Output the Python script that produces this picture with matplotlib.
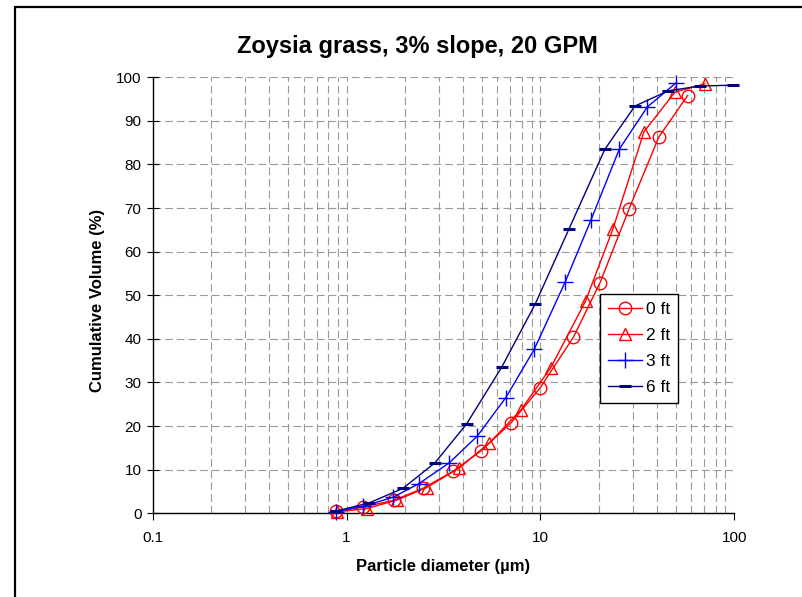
import matplotlib
matplotlib.use("Agg")
import matplotlib.pyplot as plt
import matplotlib.patches as mpatches
from matplotlib.ticker import FixedLocator, FuncFormatter, NullFormatter

plt.rcParams["font.family"] = ["Liberation Sans", "DejaVu Sans"]

# ── Data ─────────────────────────────────────────────────────────
x_0ft = [0.88, 1.22, 1.76, 2.47, 3.53, 4.96, 7.07, 9.94, 14.8, 20.3, 28.7, 40.8, 57.4]
v_0ft = [0.5, 1.45, 3.0, 5.7, 9.6, 14.4, 20.8, 28.7, 40.4, 52.9, 69.9, 86.3, 95.8]

x_2ft = [0.89, 1.27, 1.81, 2.59, 3.81, 5.44, 7.93, 11.3, 17.1, 23.6, 34.2, 49.4, 70.5]
v_2ft = [0.3, 1.1, 3.0, 5.9, 10.4, 16.1, 23.7, 33.4, 48.7, 65.1, 87.5, 96.6, 98.5]

x_3ft = [0.88, 1.22, 1.74, 2.36, 3.39, 4.72, 6.62, 9.29, 13.4, 18.2, 25.5, 35.6, 50.0]
v_3ft = [0.4, 1.6, 3.7, 6.8, 11.6, 17.7, 26.5, 37.6, 53.0, 67.2, 83.5, 93.2, 98.7]

x_6ft = [0.88, 1.31, 1.95, 2.86, 4.16, 6.31, 9.4, 14.0, 21.5, 30.7, 45.6, 66.5, 98.6]
v_6ft = [0.5, 2.4, 5.7, 11.6, 20.5, 33.5, 48.0, 65.1, 83.5, 93.4, 96.9, 98.0, 98.2]

y_ticks = list(range(0, 101, 10))
x_ticks = [0.1, 1, 10, 100]

# ── Figure ───────────────────────────────────────────────────────
fig = plt.figure(figsize=(8.03, 5.97), dpi=100, facecolor="white")
ax = fig.add_axes([152.7 / 803, 1 - 513.3 / 597, 581.6 / 803, 436 / 597])

# outer chart frame (runs past right/bottom edge like the source)
frame = mpatches.Rectangle((15.5 / 803, -0.2), 1.2, 1.2 - 6.5 / 597,
                           transform=fig.transFigure, fill=False,
                           edgecolor="black", linewidth=1.6, clip_on=False)
fig.patches.append(frame)

ax.set_xscale("log")
ax.set_xlim(0.1, 100)
ax.set_ylim(0, 100)

# grid
minor = [m * 10.0 ** e for e in (-1, 0, 1) for m in range(2, 10)]
ax.xaxis.set_minor_locator(FixedLocator(minor))
ax.xaxis.set_minor_formatter(NullFormatter())
ax.xaxis.set_major_locator(FixedLocator(x_ticks))
ax.xaxis.set_major_formatter(FuncFormatter(lambda v, p: "%g" % v))
ax.set_yticks(y_ticks)
grid_kw = dict(color="#9A9A9A", linewidth=0.8, linestyle=(0, (7, 3.5)))
ax.grid(True, which="both", axis="x", **grid_kw)
ax.grid(True, which="major", axis="y", **grid_kw)
ax.set_axisbelow(True)

for s in ("top", "right"):
    ax.spines[s].set_visible(False)
for s in ("left", "bottom"):
    ax.spines[s].set_linewidth(1.0)

ax.tick_params(axis="y", direction="inout", length=8, width=0.8, labelsize=11, pad=4)
ax.tick_params(axis="x", which="major", direction="out", length=5, width=0.8,
               labelsize=11, pad=8)
ax.tick_params(axis="x", which="minor", length=0)

# series
ax.plot(x_0ft, v_0ft, color="#FF0000", lw=1.0, marker="o", ms=9,
        mfc="none", mec="#FF0000", mew=1.0, label="0 ft", clip_on=False, zorder=3)
ax.plot(x_2ft, v_2ft, color="#FF0000", lw=1.0, marker="^", ms=8,
        mfc="none", mec="#FF0000", mew=1.0, label="2 ft", clip_on=False, zorder=3)
ax.plot(x_3ft, v_3ft, color="#0000FF", lw=1.0, marker="+", ms=11,
        mew=1.0, label="3 ft", clip_on=False, zorder=3)
ax.plot(x_6ft, v_6ft, color="#000080", lw=1.0, marker="_", ms=9,
        mew=2.2, label="6 ft", clip_on=False, zorder=3)

leg = ax.legend(loc="upper left", bbox_to_anchor=(0.769, 0.503),
                borderaxespad=0, fontsize=12.5, frameon=True,
                fancybox=False, framealpha=1, edgecolor="black",
                handlelength=2.0, borderpad=0.45, labelspacing=0.62,
                handletextpad=0.2)
leg.get_frame().set_linewidth(1.0)

# labels
fig.text(417 / 803, 1 - 47 / 597, "Zoysia grass, 3% slope, 20 GPM",
         ha="center", va="center", fontsize=17, fontweight="bold")
fig.text(443 / 803, 1 - 567 / 597, "Particle diameter (\u00b5m)",
         ha="center", va="center", fontsize=12, fontweight="bold")
fig.text(98 / 803, 1 - 300 / 597, "Cumulative Volume (%)", rotation=90,
         ha="center", va="center", fontsize=12, fontweight="bold")

fig.savefig("out.png", dpi=100, facecolor="white")
